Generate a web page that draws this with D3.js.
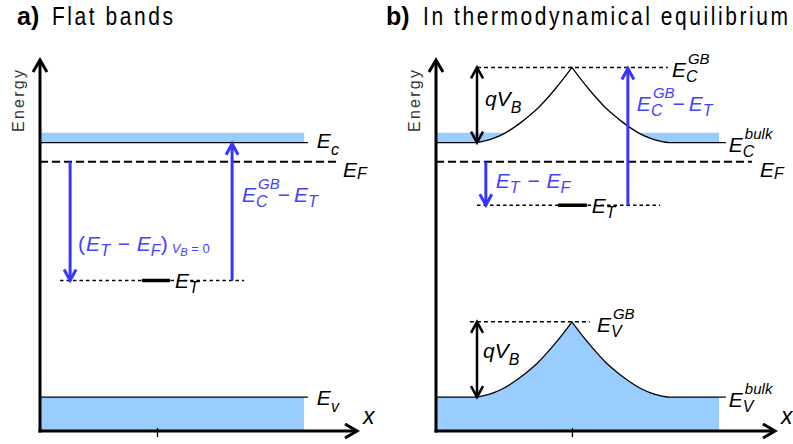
<!DOCTYPE html>
<html>
<head>
<meta charset="utf-8">
<style>
body { margin: 0; background: #fff; }
text { font-family: "Liberation Sans", Arial, sans-serif; }
.lbl { font-style: italic; font-size: 21px; white-space: pre; }
.title { font-family: "Liberation Sans Narrow", "Liberation Sans", Arial, sans-serif; font-size: 25px; }
</style>
<title></title>
</head>
<body>
<script src="https://cdn.jsdelivr.net/npm/d3@7/dist/d3.min.js"></script>
<script>

// energy axis (eV, valence band edge = 0)
var energyDomain = [-0.16, 1.59];
var Ev = 0, ET = 0.55, EF = 1.11, Ec = 1.2;
var qVB = 0.355;          // barrier height at the grain boundary
var fillDepth = 0.047;    // filled states drawn above Ec

// position along x, same units for both panels
var xDomain = [0, 10];
var gbPos = [3.69, 4.01];           // grain boundary tick, panel a / b
var bandEnd = [8.33, 8.35];         // end of the blue fills
var lineEnd = [8.45, 8.55];         // end of the band edge lines
var efEnd = [9.46, 9.32];

// band bending: distance from GB -> fraction of qVB
var bendDist = [0, 0.25, 0.5, 0.75, 1.0, 1.25, 1.5, 1.75, 2.0, 2.3, 2.6, 2.9];
var bendFrac = [1, 0.85, 0.71, 0.58, 0.46, 0.36, 0.27, 0.19, 0.12, 0.06, 0.02, 0];

// panel a annotations
var aTrap = [0.63, 6.44];      // dashed trap level extent
var aTrapBar = [3.22, 4.1];
var aDownX = 0.95, aUpX = 6.06;

// panel b annotations
var bCgb = [1.21, 6.84];
var bVgb = [1.0, 4.54];
var bTrap = [1.21, 6.61];
var bTrapBar = [3.6, 4.45];
var bBarrierX = 1.21, bDownX = 1.47, bUpX = 5.66;

var width = 793, height = 444;
var blue = "#3636ff", blueText = "#4242ff", bandBlue = "#99ccff";

var svg = d3.select("body").append("svg")
    .attr("width", width)
    .attr("height", height);

var y = d3.scaleLinear().domain(energyDomain).range([431, 60]);
var xa = d3.scaleLinear().domain(xDomain).range([40, 357]);
var xb = d3.scaleLinear().domain(xDomain).range([436, 775]);

function hline(x1, x2, e, w, dash) {
  var l = svg.append("line")
      .attr("x1", x1).attr("x2", x2)
      .attr("y1", y(e)).attr("y2", y(e))
      .attr("stroke", "#000")
      .attr("stroke-width", w);
  if (dash) l.attr("stroke-dasharray", dash);
  return l;
}

function chevron(tx, ty, fx, fy, len, half, color, w) {
  var dx = tx - fx, dy = ty - fy, L = Math.hypot(dx, dy);
  var ux = dx / L, uy = dy / L;
  var bx = tx - ux * len, by = ty - uy * len;
  svg.append("path")
      .attr("d", "M" + (bx - uy * half) + "," + (by + ux * half) +
                 "L" + tx + "," + ty +
                 "L" + (bx + uy * half) + "," + (by - ux * half))
      .attr("fill", "none")
      .attr("stroke", color)
      .attr("stroke-width", w);
}

function arrow(x1, y1, x2, y2, color, w, both) {
  svg.append("line")
      .attr("x1", x1).attr("y1", y1)
      .attr("x2", x2).attr("y2", y2)
      .attr("stroke", color)
      .attr("stroke-width", w);
  chevron(x2, y2, x1, y1, 11, 6, color, w);
  if (both) chevron(x1, y1, x2, y2, 11, 6, color, w);
}

// text with stacked sub/superscripts
function label(x0, y0, parts, color) {
  var g = svg.append("g").attr("fill", color || "#000");
  var cx = x0;
  parts.forEach(function(p) {
    var w = 0;
    if (p.t != null) {
      var t = g.append("text").attr("class", "lbl")
          .attr("x", cx).attr("y", y0 + (p.dy || 0))
          .text(p.t);
      if (p.size) t.style("font-size", p.size + "px");
      if (p.up) t.style("font-style", "normal");
      w = t.node().getComputedTextLength();
    }
    if (p.sub != null) {
      var s = g.append("text").attr("class", "lbl")
          .attr("x", cx).attr("y", y0 + (p.subDy != null ? p.subDy : 5))
          .style("font-size", (p.subSize || 16) + "px")
          .text(p.sub);
      w = Math.max(w, s.node().getComputedTextLength());
    }
    if (p.sup != null) {
      var u = g.append("text").attr("class", "lbl")
          .attr("x", cx + 2).attr("y", y0 - 13)
          .style("font-size", "15px")
          .text(p.sup);
      w = Math.max(w, u.node().getComputedTextLength());
    }
    cx += w + (p.gap || 0);
  });
}

// band bending profile through the points
function profilePath(x, gb, x0, x1, base) {
  var left = [[x0, base]], right = [];
  for (var i = bendDist.length - 1; i >= 0; i--) left.push([gb - bendDist[i], base + qVB * bendFrac[i]]);
  for (var j = 0; j < bendDist.length; j++) right.push([gb + bendDist[j], base + qVB * bendFrac[j]]);
  right.push([x1, base]);
  var line = d3.line()
      .x(function(d) { return x(d[0]); })
      .y(function(d) { return y(d[1]); })
      .curve(d3.curveMonotoneX);
  return line(left) + "L" + line(right).slice(1);
}

function axes(x, gb) {
  var x0 = x(xDomain[0]), x1 = x(xDomain[1]);
  svg.append("g")
      .attr("transform", "translate(0,428)")
      .call(d3.axisBottom(x).tickValues([gb]).tickFormat("").tickSizeInner(9).tickSizeOuter(0))
      .call(function(g) { g.select(".domain").remove(); })
      .selectAll("line").attr("stroke-width", 1.3);
  svg.append("line")
      .attr("x1", x0).attr("x2", x0)
      .attr("y1", y(energyDomain[0]) + 1.5).attr("y2", y(energyDomain[1]) + 1)
      .attr("stroke", "#000").attr("stroke-width", 3);
  svg.append("line")
      .attr("x1", x0 - 1.5).attr("x2", x1 - 1)
      .attr("y1", y(energyDomain[0])).attr("y2", y(energyDomain[0]))
      .attr("stroke", "#000").attr("stroke-width", 3);
  chevron(x0, y(energyDomain[1]), x0, y(energyDomain[0]), 12, 7, "#000", 3);
  chevron(x1, y(energyDomain[0]), x0, y(energyDomain[0]), 12, 7, "#000", 3);
  svg.append("text")
      .attr("transform", "translate(" + (x0 - 16) + ",101) rotate(-90)")
      .attr("text-anchor", "middle")
      .attr("textLength", 62)
      .attr("lengthAdjust", "spacing")
      .style("font-size", "16px")
      .attr("fill", "#333")
      .text("Energy");
  label(x1 + 6, y(energyDomain[0]) - 7, [{t: "x", size: 23}]);
}

// ---------- panel a: flat bands ----------
svg.append("rect")
    .attr("x", xa(0) + 1).attr("y", y(Ec + fillDepth))
    .attr("width", xa(bandEnd[0]) - xa(0) - 1).attr("height", y(Ec) - y(Ec + fillDepth))
    .attr("fill", bandBlue);
svg.append("rect")
    .attr("x", xa(0) + 1).attr("y", y(Ev))
    .attr("width", xa(bandEnd[0]) - xa(0) - 1).attr("height", y(energyDomain[0]) - y(Ev))
    .attr("fill", bandBlue);
hline(xa(0), xa(lineEnd[0]), Ec, 1.3);
hline(xa(0), xa(lineEnd[0]), Ev, 1.3);
hline(xa(0), xa(efEnd[0]), EF, 2, "8,4");
hline(xa(aTrap[0]), xa(aTrap[1]), ET, 1.5, "3.5,3");
hline(xa(aTrapBar[0]), xa(aTrapBar[1]), ET, 3.5);
arrow(xa(aDownX), y(EF), xa(aDownX), y(ET), blue, 3);
arrow(xa(aUpX), y(ET), xa(aUpX), y(Ec) + 1, blue, 3);
axes(xa, gbPos[0]);

label(xa(lineEnd[0]) + 9, y(Ec) + 5, [{t: "E"}, {sub: "c", subDy: 7}]);
label(xa(efEnd[0]) + 3, y(EF) + 15, [{t: "E"}, {sub: "F", subDy: 2}]);
label(xa(lineEnd[0]) + 9, y(Ev) + 8, [{t: "E"}, {sub: "v", subDy: 7}]);
label(xa(aTrapBar[1]) + 5, y(ET) + 8, [{t: "E"}, {sub: "T"}]);
label(xa(aUpX) + 10, 202, [{t: "E"}, {sub: "C", sup: "GB"}, {t: "−", up: true, gap: 4}, {t: "E"}, {sub: "T"}], blueText);
label(xa(aDownX) + 8, 251, [{t: "(", up: true, gap: 1}, {t: "E"}, {sub: "T", gap: 2}, {t: " − ", up: true, gap: 1}, {t: "E"}, {sub: "F"},
    {t: ")", up: true, gap: 4}, {t: "V", size: 13, dy: 2}, {t: "B", size: 11, dy: 5}, {t: " = 0", up: true, size: 13, dy: 2}], blueText);

// ---------- panel b: thermodynamical equilibrium ----------
var cPath = profilePath(xb, gbPos[1], 0, lineEnd[1], Ec);
var cFill = profilePath(xb, gbPos[1], 0, bandEnd[1], Ec);
var vFill = profilePath(xb, gbPos[1], 0, bandEnd[1], Ev);
var vPath = profilePath(xb, gbPos[1], 0, lineEnd[1], Ev);

svg.append("clipPath").attr("id", "aboveEc")
  .append("path")
    .attr("d", cFill + "L" + xb(bandEnd[1]) + "," + y(energyDomain[1]) + "L" + xb(0) + "," + y(energyDomain[1]) + "Z");
svg.append("rect")
    .attr("x", xb(0) + 1).attr("y", y(Ec + fillDepth))
    .attr("width", xb(bandEnd[1]) - xb(0) - 1).attr("height", y(Ec) - y(Ec + fillDepth))
    .attr("fill", bandBlue)
    .attr("clip-path", "url(#aboveEc)");
svg.append("path")
    .attr("d", vFill + "L" + xb(bandEnd[1]) + "," + y(energyDomain[0]) + "L" + (xb(0) + 1) + "," + y(energyDomain[0]) + "Z")
    .attr("fill", bandBlue);
svg.append("path").attr("d", cPath).attr("fill", "none").attr("stroke", "#000").attr("stroke-width", 1.3);
svg.append("path").attr("d", vPath).attr("fill", "none").attr("stroke", "#000").attr("stroke-width", 1.3);

hline(xb(bCgb[0]), xb(bCgb[1]), Ec + qVB, 1.5, "4,3");
hline(xb(bVgb[0]), xb(bVgb[1]), Ev + qVB, 1.5, "4,3");
hline(xb(0), xb(efEnd[1]), EF, 2, "8,4");
hline(xb(bTrap[0]), xb(bTrap[1]), ET + qVB, 1.5, "3.5,3");
hline(xb(bTrapBar[0]), xb(bTrapBar[1]), ET + qVB, 3.5);
arrow(xb(bBarrierX), y(Ec), xb(bBarrierX), y(Ec + qVB), "#000", 2.5, true);
arrow(xb(bBarrierX), y(Ev), xb(bBarrierX), y(Ev + qVB), "#000", 2.5, true);
arrow(xb(bDownX), y(EF), xb(bDownX), y(ET + qVB), blue, 3);
arrow(xb(bUpX), y(ET + qVB), xb(bUpX), y(Ec + qVB) + 1, blue, 3);
axes(xb, gbPos[1]);

label(xb(bCgb[1]) + 4, y(Ec + qVB) + 10, [{t: "E"}, {sub: "C", sup: "GB"}]);
label(xb(lineEnd[1]) + 3, y(Ec) + 9, [{t: "E"}, {sub: "C", sup: "bulk"}]);
label(xb(efEnd[1]) + 8, y(EF) + 15, [{t: "E"}, {sub: "F", subDy: 2}]);
label(xb(bTrapBar[1]) + 5, y(ET + qVB) + 8, [{t: "E"}, {sub: "T"}]);
label(xb(bVgb[1]) + 7, y(Ev + qVB) + 10, [{t: "E"}, {sub: "V", sup: "GB"}]);
label(xb(lineEnd[1]) + 3, y(Ev) + 10, [{t: "E"}, {sub: "V", sup: "bulk"}]);
label(xb(bBarrierX) + 8, 106, [{t: "qV"}, {sub: "B", subDy: 7}]);
label(xb(bBarrierX) + 6, 358, [{t: "qV"}, {sub: "B", subDy: 7}]);
label(xb(bUpX) + 9, 111, [{t: "E"}, {sub: "C", sup: "GB"}, {t: "−", up: true, gap: 4}, {t: "E"}, {sub: "T"}], blueText);
label(xb(bDownX) + 10, 188, [{t: "E"}, {sub: "T", gap: 2}, {t: " − ", up: true, gap: 1}, {t: "E"}, {sub: "F"}], blueText);

// ---------- titles (condensed, tracked out) ----------
function title(x, bold, txt, len) {
  var t = svg.append("text").attr("class", "title").text(txt);
  if (bold) {
    t.attr("x", x).attr("y", 25).style("font-weight", "bold");
  } else {
    t.attr("transform", "translate(" + x + ",25) scale(0.84,1)")
        .attr("textLength", len / 0.84)
        .attr("lengthAdjust", "spacing");
  }
}
title(17, true, "a)");
title(52, false, "Flat bands", 121);
title(386, true, "b)");
title(423, false, "In thermodynamical equilibrium", 365);

</script>
</body>
</html>
